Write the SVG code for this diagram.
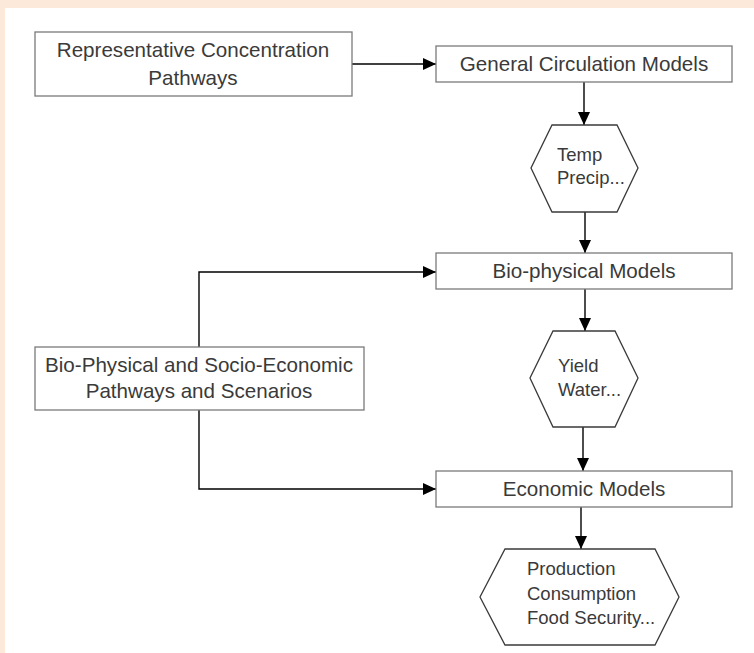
<svg xmlns="http://www.w3.org/2000/svg" width="754" height="653" viewBox="0 0 754 653">
<defs>
<style>
.box{fill:#fff;stroke:#7a7a7a;stroke-width:1.3}
.hex{fill:#fff;stroke:#3a3a3a;stroke-width:1.3}
.t{font-family:"Liberation Sans",Arial,sans-serif;font-size:20.6px;fill:#3a3a3a;text-anchor:middle}
.h{font-family:"Liberation Sans",Arial,sans-serif;font-size:18.5px;fill:#3a3a3a}
.c{fill:none;stroke:#000;stroke-width:1.4}
</style>
<marker id="ah" markerWidth="14" markerHeight="12" refX="13" refY="6" orient="auto" markerUnits="userSpaceOnUse">
<path d="M0,0 L13,6 L0,12 Z" fill="#000"/>
</marker>
</defs>
<rect x="0" y="0" width="754" height="653" fill="#fde9d9"/>
<rect x="5" y="8" width="749" height="645" fill="#fff"/>
<g id="connectors">
<path class="c" d="M352,64 L436,64" marker-end="url(#ah)"/>
<path class="c" d="M584,82 L584,125" marker-end="url(#ah)"/>
<path class="c" d="M585,212 L585,253" marker-end="url(#ah)"/>
<path class="c" d="M199,347 L199,272 L436,272" marker-end="url(#ah)"/>
<path class="c" d="M199,410 L199,489 L436,489" marker-end="url(#ah)"/>
<path class="c" d="M585,289 L585,331" marker-end="url(#ah)"/>
<path class="c" d="M583,427 L583,471" marker-end="url(#ah)"/>
<path class="c" d="M581,507 L581,549" marker-end="url(#ah)"/>
</g>
<g id="rcp">
<rect class="box" x="35" y="32" width="317" height="64"/>
<text class="t" x="193" y="57">Representative Concentration</text>
<text class="t" x="193" y="85">Pathways</text>
</g>
<g id="gcm">
<rect class="box" x="436" y="46" width="296" height="36"/>
<text class="t" x="584" y="71">General Circulation Models</text>
</g>
<g id="temp">
<polygon class="hex" points="552,125 617,125 638,168 617,212 552,212 531,168"/>
<text class="h" x="557" y="161">Temp</text>
<text class="h" x="557" y="184">Precip...</text>
</g>
<g id="bio">
<rect class="box" x="436" y="253" width="296" height="36"/>
<text class="t" x="584" y="278">Bio-physical Models</text>
</g>
<g id="bpse">
<rect class="box" x="35" y="347" width="329" height="63"/>
<text class="t" x="199" y="372">Bio-Physical and Socio-Economic</text>
<text class="t" x="199" y="398">Pathways and Scenarios</text>
</g>
<g id="yield">
<polygon class="hex" points="553,331 615,331 638,378 615,427 553,427 530,378"/>
<text class="h" x="558" y="372">Yield</text>
<text class="h" x="558" y="396">Water...</text>
</g>
<g id="econ">
<rect class="box" x="436" y="471" width="296" height="36"/>
<text class="t" x="584" y="496">Economic Models</text>
</g>
<g id="prod">
<polygon class="hex" points="505,549 655,549 679,597 655,645 505,645 480,597"/>
<text class="h" x="527" y="575">Production</text>
<text class="h" x="527" y="600">Consumption</text>
<text class="h" x="527" y="624">Food Security...</text>
</g>
</svg>
